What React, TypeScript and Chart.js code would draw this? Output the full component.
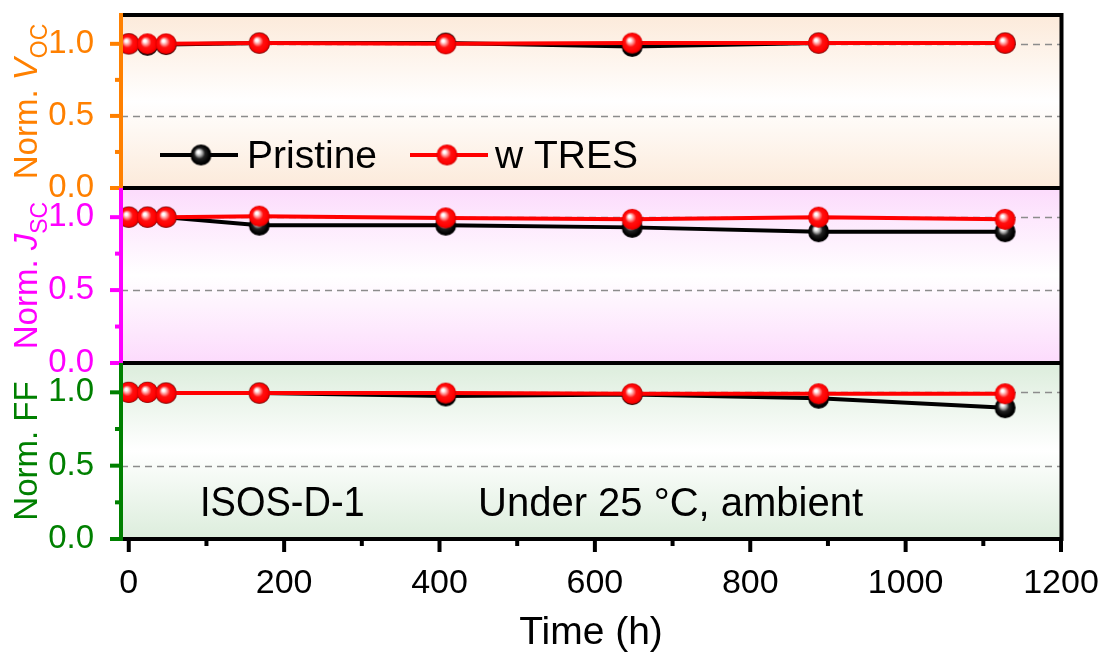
import React, { useEffect, useRef } from 'react';
import { Chart, registerables } from 'chart.js';
Chart.register(...registerables);

// ---- data ----
const hours = [0, 24, 48, 168, 408, 648, 888, 1128];
const vocPristine = [1.0, 0.99, 0.995, 1.005, 1.005, 0.982, 1.005, 1.005];
const vocTres = [1.0, 1.0, 1.0, 1.005, 1.0, 1.005, 1.005, 1.005];
const jscPristine = [1.0, 1.0, 1.0, 0.945, 0.945, 0.93, 0.9, 0.9];
const jscTres = [1.0, 1.0, 1.0, 1.007, 0.995, 0.985, 1.0, 0.985];
const ffPristine = [1.0, 1.0, 0.995, 0.995, 0.975, 0.985, 0.96, 0.895];
const ffTres = [1.0, 1.0, 0.995, 0.995, 0.995, 0.99, 0.99, 0.99];
const seriesNames = ['Pristine', 'w TRES'];
const xTicks = [0, 200, 400, 600, 800, 1000, 1200];
const xMinorTicks = [100, 300, 500, 700, 900, 1100];
const yTicks = [0, 0.5, 1.0];
const yMinorTicks = [0.25, 0.75];
const dashedLevels = [0.5, 1.0];
const annotations = ['ISOS-D-1', 'Under 25 °C, ambient'];
const xTitle = 'Time (h)';

const FONT = "'Liberation Sans', Arial, Helvetica, sans-serif";

type Part = { t: string; it?: boolean; sub?: boolean };
const panels = [
  { id: 'yV', color: '#FF8000', bg: '#FCEADA', weight: 173, pristine: vocPristine, tres: vocTres,
    title: [{ t: 'Norm. ' }, { t: 'V', it: true }, { t: 'OC', sub: true }] as Part[] },
  { id: 'yJ', color: '#FF00FF', bg: '#FCDBFC', weight: 175, pristine: jscPristine, tres: jscTres,
    title: [{ t: 'Norm. ' }, { t: 'J', it: true }, { t: 'SC', sub: true }] as Part[] },
  { id: 'yF', color: '#008000', bg: '#DCEDDC', weight: 176, pristine: ffPristine, tres: ffTres,
    title: [{ t: 'Norm. FF' }] as Part[] },
];

function makeSphere(base: string, mid: string, hl: string, dark: string, r: number) {
  const c = document.createElement('canvas');
  const s = Math.ceil(r * 2 + 2);
  c.width = s; c.height = s;
  const g = c.getContext('2d')!;
  const cx = s / 2, cy = s / 2;
  const grad = g.createRadialGradient(cx - r * 0.28, cy - r * 0.32, 0, cx, cy, r);
  grad.addColorStop(0, '#ffffff');
  grad.addColorStop(0.12, '#ffffff');
  grad.addColorStop(0.3, hl);
  grad.addColorStop(0.52, mid);
  grad.addColorStop(0.85, base);
  grad.addColorStop(1, dark);
  g.fillStyle = grad;
  g.beginPath();
  g.arc(cx, cy, r, 0, Math.PI * 2);
  g.fill();
  return c;
}

export default function App() {
  const ref = useRef<HTMLCanvasElement>(null);
  useEffect(() => {
    const redSphere = makeSphere('#ff0000', '#ff1010', '#ff9999', '#cc0000', 10.5);
    const blackSphere = makeSphere('#000000', '#202020', '#b0b0b0', '#000000', 10.5);

    const datasets: any[] = [];
    panels.forEach((p) => {
      datasets.push({
        label: seriesNames[0],
        data: hours.map((h, i) => ({ x: h, y: p.pristine[i] })),
        yAxisID: p.id, xAxisID: 'x',
        borderColor: '#000000', borderWidth: 4,
        pointStyle: blackSphere, pointRadius: 10.5,
        order: 1, tension: 0,
      });
      datasets.push({
        label: seriesNames[1],
        data: hours.map((h, i) => ({ x: h, y: p.tres[i] })),
        yAxisID: p.id, xAxisID: 'x',
        borderColor: '#FF0000', borderWidth: 4,
        pointStyle: redSphere, pointRadius: 10.5,
        order: 0, tension: 0,
      });
    });

    const scales: any = {
      x: {
        type: 'linear', position: 'bottom', min: -10, max: 1200,
        afterBuildTicks: (ax: any) => { ax.ticks = xTicks.map((v) => ({ value: v })); },
        afterFit: (s: any) => { s.height = 118; s.paddingLeft = 0; s.paddingRight = 0; },
        ticks: { color: '#000', font: { family: FONT, size: 34 }, padding: 16, maxRotation: 0, autoSkip: false,
          callback: (v: any) => String(v) },
        grid: { display: false }, border: { display: false },
        title: { display: true, text: xTitle, color: '#000', font: { family: FONT, size: 39 }, padding: { top: 0, bottom: 0 } },
      },
    };
    // stacked scales are laid out bottom-up in definition order
    [...panels].reverse().forEach((p) => {
      scales[p.id] = {
        type: 'linear', position: 'left', stack: 'panels', stackWeight: p.weight, offset: false,
        min: 0, max: 1.2,
        afterBuildTicks: (ax: any) => { ax.ticks = yTicks.map((v) => ({ value: v })); },
        afterFit: (s: any) => { s.width = 121; s.paddingTop = 0; s.paddingBottom = 0; },
        ticks: { color: p.color, font: { family: FONT, size: 33 }, padding: 19, autoSkip: false,
          callback: (v: any) => Number(v).toFixed(1) },
        grid: { display: false }, border: { display: false },
      };
    });

    const decor = {
      id: 'decor',
      beforeDatasetsDraw(chart: any) {
        const { ctx, chartArea } = chart;
        const L = chartArea.left, R = chartArea.right;
        panels.forEach((p) => {
          const s = chart.scales[p.id];
          const g = ctx.createLinearGradient(0, s.top, 0, s.bottom);
          g.addColorStop(0, p.bg);
          g.addColorStop(0.5, '#ffffff');
          g.addColorStop(1, p.bg);
          ctx.save();
          ctx.fillStyle = g;
          ctx.fillRect(L, s.top, R - L, s.bottom - s.top);
          ctx.strokeStyle = '#8c8c8c';
          ctx.lineWidth = 1.5;
          ctx.setLineDash([7, 5]);
          dashedLevels.forEach((v) => {
            const y = Math.round(s.getPixelForValue(v)) + 0.5;
            ctx.beginPath(); ctx.moveTo(L, y); ctx.lineTo(R, y); ctx.stroke();
          });
          ctx.restore();
        });
      },
      afterDatasetsDraw(chart: any) {
        const { ctx, chartArea } = chart;
        const L = chartArea.left, R = chartArea.right, T = chartArea.top, B = chartArea.bottom;
        const xs = chart.scales.x;
        ctx.save();
        ctx.lineCap = 'butt';
        // frame & separators
        ctx.strokeStyle = '#000';
        ctx.lineWidth = 4;
        ctx.beginPath();
        ctx.moveTo(L, T); ctx.lineTo(R + 1, T);
        ctx.moveTo(R + 0.5, T - 2); ctx.lineTo(R + 0.5, B + 2);
        ctx.moveTo(L, B); ctx.lineTo(R + 2, B);
        panels.slice(0, 2).forEach((p) => {
          const s = chart.scales[p.id];
          ctx.moveTo(L, s.bottom); ctx.lineTo(R, s.bottom);
        });
        ctx.stroke();
        // x ticks
        xTicks.forEach((v) => {
          const x = xs.getPixelForValue(v);
          ctx.beginPath(); ctx.moveTo(x, B); ctx.lineTo(x, B + 13); ctx.stroke();
        });
        xMinorTicks.forEach((v) => {
          const x = xs.getPixelForValue(v);
          ctx.beginPath(); ctx.moveTo(x, B); ctx.lineTo(x, B + 7); ctx.stroke();
        });
        // left axes, y ticks
        panels.forEach((p) => {
          const s = chart.scales[p.id];
          ctx.strokeStyle = p.color;
          ctx.lineWidth = 4;
          ctx.beginPath(); ctx.moveTo(L, s.top - (p.id === 'yV' ? 2 : 0)); ctx.lineTo(L, s.bottom + (p.id === 'yF' ? 2 : 0)); ctx.stroke();
          yTicks.forEach((v) => {
            const y = s.getPixelForValue(v);
            ctx.beginPath(); ctx.moveTo(L - 11, y); ctx.lineTo(L, y); ctx.stroke();
          });
          yMinorTicks.forEach((v) => {
            const y = s.getPixelForValue(v);
            ctx.beginPath(); ctx.moveTo(L - 6, y); ctx.lineTo(L, y); ctx.stroke();
          });
          // y title (rotated, with subscript)
          const cy = (s.top + s.bottom) / 2;
          const fontFor = (pt: Part) => (pt.it ? 'italic ' : '') + (pt.sub ? '23px ' : '33px ') + FONT;
          ctx.save();
          ctx.translate(37, cy);
          ctx.rotate(-Math.PI / 2);
          ctx.fillStyle = p.color;
          ctx.textAlign = 'left';
          ctx.textBaseline = 'alphabetic';
          let total = 0;
          p.title.forEach((pt) => { ctx.font = fontFor(pt); total += ctx.measureText(pt.t).width; });
          let x = -total / 2;
          p.title.forEach((pt) => {
            ctx.font = fontFor(pt);
            ctx.fillText(pt.t, x, pt.sub ? 10 : 0);
            x += ctx.measureText(pt.t).width;
          });
          ctx.restore();
        });
        // legend
        const legendItems = [
          { name: seriesNames[0], color: '#000000', img: chart.data.datasets[0].pointStyle, x0: 160, x1: 238, xm: 201, xt: 247 },
          { name: seriesNames[1], color: '#FF0000', img: chart.data.datasets[1].pointStyle, x0: 410, x1: 488, xm: 447, xt: 495 },
        ];
        const ly = 155;
        legendItems.forEach((it) => {
          ctx.strokeStyle = it.color;
          ctx.lineWidth = 4;
          ctx.beginPath(); ctx.moveTo(it.x0, ly); ctx.lineTo(it.x1, ly); ctx.stroke();
          ctx.drawImage(it.img, it.xm - it.img.width / 2, ly - it.img.height / 2);
          ctx.fillStyle = '#000';
          ctx.font = '39px ' + FONT;
          ctx.textAlign = 'left';
          ctx.textBaseline = 'alphabetic';
          ctx.fillText(it.name, it.xt, 168);
        });
        // annotations
        ctx.fillStyle = '#000';
        ctx.font = '40px ' + FONT;
        ctx.save();
        ctx.translate(200, 516);
        ctx.scale(0.95, 1.05);
        ctx.fillText(annotations[0], 0, 0);
        ctx.restore();
        ctx.fillText(annotations[1], 478, 516);
        ctx.restore();
      },
    };

    const chart = new Chart(ref.current!, {
      type: 'line',
      data: { datasets },
      options: {
        animation: false,
        responsive: false,
        events: [],
        layout: { padding: { top: 15, right: 43, left: 0, bottom: 0 } },
        plugins: { legend: { display: false }, tooltip: { enabled: false } },
        scales,
      },
      plugins: [decor],
    } as any);
    return () => chart.destroy();
  }, []);
  return (
    <div style={{ position: 'fixed', left: 0, top: 0, width: 1104, height: 657, background: '#ffffff' }}>
      <canvas ref={ref} width={1104} height={657} style={{ display: 'block' }} />
    </div>
  );
}
